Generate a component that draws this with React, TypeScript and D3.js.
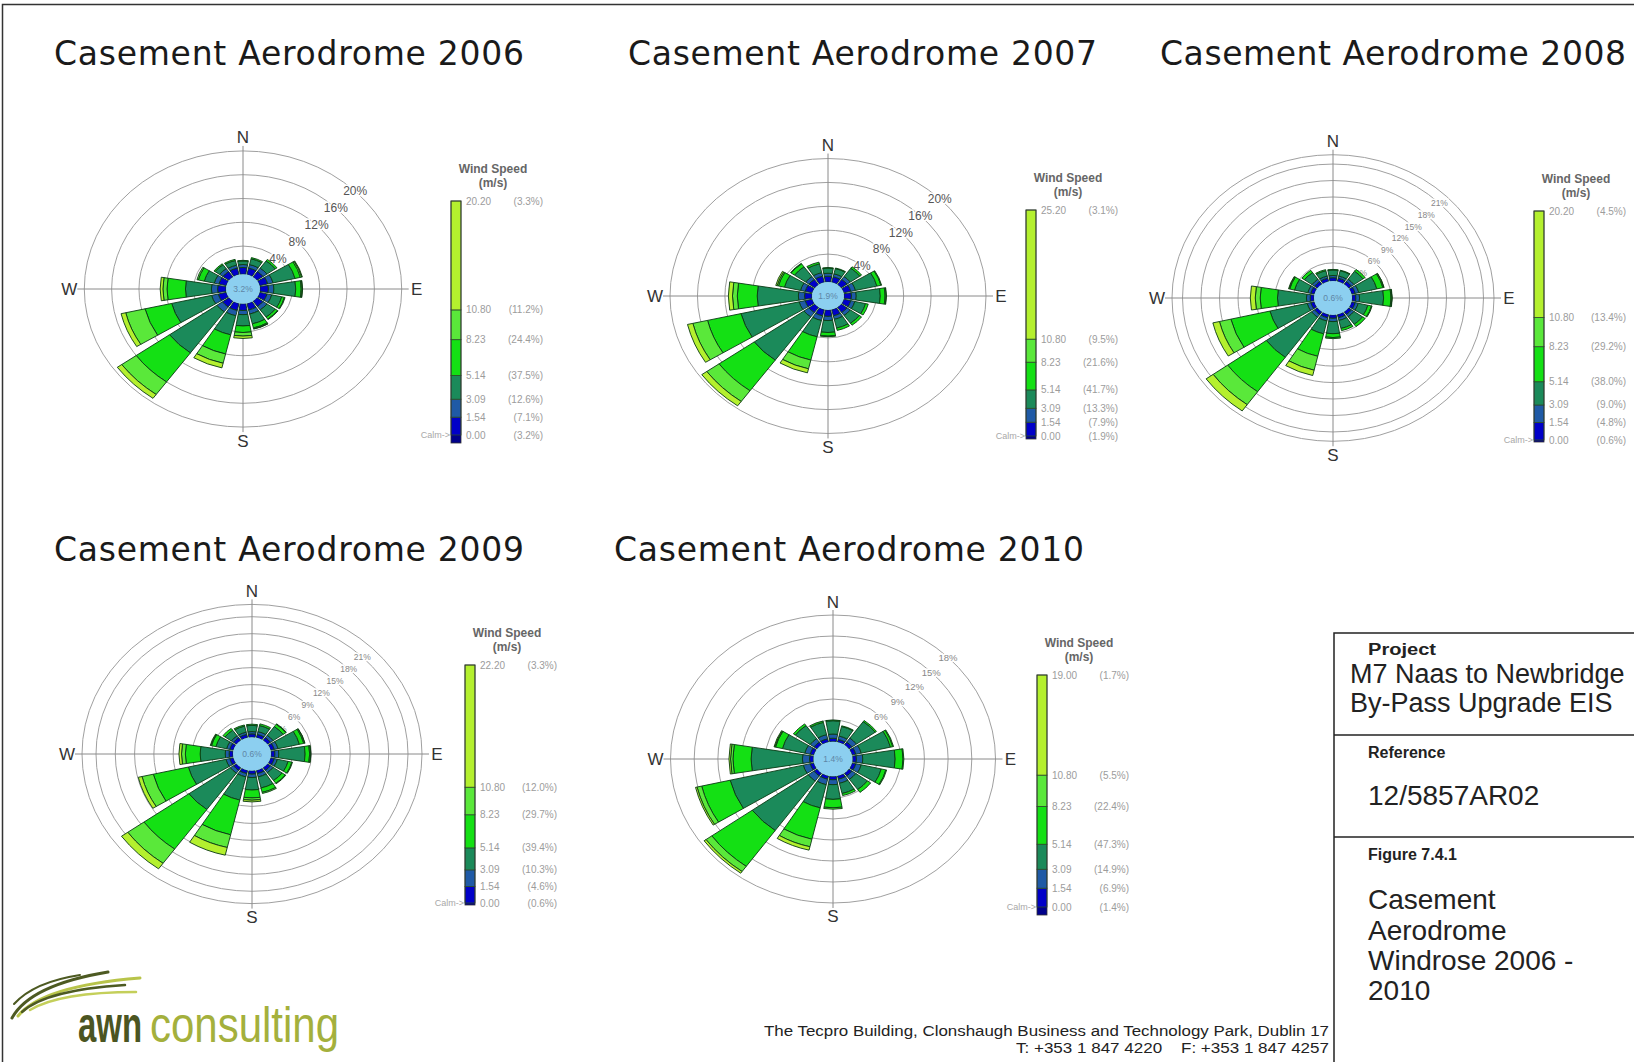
import React from "react";
import * as d3 from "d3";

// ---------------- DATA ----------------
const directions = ["N", "NNE", "NE", "ENE", "E", "ESE", "SE", "SSE", "S", "SSW", "SW", "WSW", "W", "WNW", "NW", "NNW"];
const speedClasses = ["0.50-1.54", "1.54-3.09", "3.09-5.14", "5.14-8.23", "8.23-10.80", ">=10.80"];
const years = ["2006", "2007", "2008", "2009", "2010"];
const calmPct = [3.2, 1.9, 0.6, 0.6, 1.4];

// legend: class boundaries (m/s) and max speed per year
const legendBounds = [0, 1.54, 3.09, 5.14, 8.23, 10.8];
const legendMax = [20.2, 25.2, 20.2, 22.2, 19.0];
// percentages printed next to 0.00, 1.54, 3.09, 5.14, 8.23, 10.80, max
const legendPct2006 = [3.2, 7.1, 12.6, 37.5, 24.4, 11.2, 3.3];
const legendPct2007 = [1.9, 7.9, 13.3, 41.7, 21.6, 9.5, 3.1];
const legendPct2008 = [0.6, 4.8, 9.0, 38.0, 29.2, 13.4, 4.5];
const legendPct2009 = [0.6, 4.6, 10.3, 39.4, 29.7, 12.0, 3.3];
const legendPct2010 = [1.4, 6.9, 14.9, 47.3, 22.4, 5.5, 1.7];

// frequency rings (%)
const rings2006 = [4, 8, 12, 16, 20];
const rings2007 = [4, 8, 12, 16, 20];
const rings2008 = [3, 6, 9, 12, 15, 18, 21];
const rings2009 = [3, 6, 9, 12, 15, 18, 21];
const rings2010 = [3, 6, 9, 12, 15, 18];

// frequency (%) per speed class (rows) per direction (columns N..NNW)
const freq2006 = [
  [0.4, 0.4, 0.4, 0.5, 0.5, 0.4, 0.4, 0.4, 0.4, 0.5, 0.5, 0.5, 0.5, 0.4, 0.4, 0.4],
  [0.5, 0.6, 0.7, 0.8, 0.8, 0.7, 0.7, 0.7, 0.7, 0.9, 1.0, 1.0, 0.9, 0.7, 0.6, 0.5],
  [0.6, 1.0, 1.5, 3.3, 3.2, 1.5, 1.5, 1.7, 1.9, 3.3, 8.5, 6.0, 3.8, 1.5, 0.8, 0.8],
  [0.1, 0.2, 0.3, 0.8, 0.8, 0.4, 0.4, 0.7, 1.1, 3.3, 6.0, 4.0, 2.7, 0.9, 0.2, 0.2],
  [0, 0, 0, 0.2, 0.15, 0.1, 0.1, 0.15, 0.6, 1.6, 2.6, 2.9, 0.6, 0.2, 0, 0],
  [0, 0, 0, 0.1, 0.05, 0, 0, 0.05, 0.4, 0.8, 0.8, 0.7, 0.4, 0, 0, 0],
];
const freq2007 = [
  [0.3, 0.3, 0.4, 0.4, 0.4, 0.4, 0.4, 0.4, 0.4, 0.4, 0.4, 0.4, 0.4, 0.4, 0.4, 0.4],
  [0.5, 0.5, 0.6, 0.7, 0.7, 0.6, 0.6, 0.6, 0.7, 0.8, 0.9, 0.9, 0.9, 0.7, 0.6, 0.6],
  [0.85, 0.9, 1.7, 3.2, 3.5, 1.6, 1.6, 1.5, 2.0, 2.8, 8.9, 8.7, 6.0, 2.4, 2.0, 1.5],
  [0.1, 0.1, 0.3, 0.6, 0.7, 0.4, 0.4, 0.4, 0.6, 4.0, 6.3, 5.0, 2.9, 0.9, 0.6, 0.3],
  [0, 0, 0, 0.1, 0.15, 0, 0, 0, 0.1, 1.5, 2.2, 2.2, 0.7, 0.2, 0.1, 0],
  [0, 0, 0, 0, 0.05, 0, 0, 0, 0, 0.7, 0.9, 0.8, 0.6, 0.2, 0, 0],
];
const freq2008 = [
  [0.3, 0.3, 0.3, 0.3, 0.3, 0.3, 0.3, 0.3, 0.3, 0.3, 0.3, 0.3, 0.3, 0.3, 0.3, 0.3],
  [0.4, 0.4, 0.5, 0.6, 0.6, 0.5, 0.5, 0.5, 0.6, 0.6, 0.6, 0.6, 0.6, 0.5, 0.5, 0.4],
  [1.0, 1.0, 1.8, 3.0, 3.9, 1.6, 1.7, 1.5, 2.2, 2.4, 9.0, 6.2, 4.7, 2.2, 1.5, 1.0],
  [0.1, 0.1, 0.4, 1.0, 1.2, 0.6, 0.5, 0.4, 0.7, 4.2, 7.7, 6.5, 2.8, 0.8, 0.5, 0.2],
  [0, 0, 0, 0.15, 0.15, 0.1, 0, 0, 0.2, 2.6, 2.9, 1.9, 0.8, 0.1, 0, 0],
  [0, 0, 0, 0.05, 0.05, 0, 0, 0, 0, 1.0, 1.4, 1.1, 0.8, 0.1, 0, 0],
];
const freq2009 = [
  [0.3, 0.3, 0.3, 0.3, 0.3, 0.3, 0.3, 0.3, 0.3, 0.3, 0.3, 0.3, 0.3, 0.3, 0.3, 0.3],
  [0.4, 0.5, 0.5, 0.6, 0.6, 0.5, 0.5, 0.6, 0.6, 0.6, 0.6, 0.6, 0.6, 0.5, 0.4, 0.4],
  [1.1, 1.1, 1.9, 3.4, 4.1, 1.7, 1.7, 2.0, 2.2, 4.2, 7.9, 6.0, 3.9, 1.7, 1.2, 1.1],
  [0.2, 0.3, 0.5, 0.7, 0.7, 0.6, 0.6, 0.8, 1.4, 6.3, 8.6, 5.6, 2.3, 0.7, 0.4, 0.2],
  [0, 0, 0.1, 0.15, 0.15, 0.1, 0.1, 0.2, 0.4, 2.3, 3.1, 1.8, 0.6, 0.1, 0, 0],
  [0, 0, 0, 0.05, 0.05, 0, 0, 0, 0.3, 1.4, 1.2, 0.6, 0.4, 0.1, 0, 0],
];
const freq2010 = [
  [0.4, 0.3, 0.4, 0.4, 0.4, 0.4, 0.4, 0.4, 0.4, 0.4, 0.4, 0.4, 0.4, 0.4, 0.4, 0.4],
  [0.6, 0.5, 0.7, 0.7, 0.8, 0.7, 0.6, 0.6, 0.7, 0.8, 0.9, 0.9, 0.9, 0.7, 0.6, 0.6],
  [1.9, 1.4, 2.9, 3.8, 4.1, 2.6, 1.8, 1.5, 2.1, 3.4, 8.7, 9.5, 6.5, 2.9, 2.3, 1.8],
  [0.1, 0.1, 0.2, 0.3, 1.0, 0.6, 0.5, 0.3, 1.2, 4.6, 6.3, 3.7, 2.3, 0.9, 0.3, 0.2],
  [0, 0, 0, 0.1, 0.1, 0.1, 0, 0, 0.2, 1.1, 0.9, 0.6, 0.3, 0.1, 0, 0],
  [0, 0, 0, 0, 0, 0, 0, 0, 0, 0.5, 0.3, 0.2, 0.2, 0.1, 0, 0],
];

const FREQS = [freq2006, freq2007, freq2008, freq2009, freq2010];
const RINGS = [rings2006, rings2007, rings2008, rings2009, rings2010];
const LEGEND_PCTS = [legendPct2006, legendPct2007, legendPct2008, legendPct2009, legendPct2010];

// ---------------- LAYOUT & STYLE ----------------
const CLASS_COLORS = ["#0000c8", "#1f5aa6", "#1b8a5a", "#14e014", "#5ae83a", "#b4f02e"];
const CALM_FILL = "#8ccff0";
const PETAL_STROKE = "#0a3a14";

const ROSES = [
  { cx: 243, cy: 289, r0: 22, R: 158.7, max: 20, sy: 0.87, rc: 17, frame: 0, ringFont: 12, ringColor: "#555" },
  { cx: 828, cy: 296, r0: 20.7, R: 158, max: 20, sy: 0.87, rc: 16, frame: 0, ringFont: 12, ringColor: "#555" },
  { cx: 1333, cy: 298, r0: 21, R: 150.5, max: 21, sy: 0.89, rc: 19, frame: 161, ringFont: 8.5, ringColor: "#888" },
  { cx: 252, cy: 754, r0: 21, R: 156, max: 21, sy: 0.88, rc: 19, frame: 170, ringFont: 8.5, ringColor: "#888" },
  { cx: 833, cy: 759, r0: 20.3, R: 162.5, max: 18, sy: 0.886, rc: 19.5, frame: 0, ringFont: 9.5, ringColor: "#888" },
];
const TITLES = [
  { x: 54, y: 64.5, w: 470 },
  { x: 628, y: 64.5, w: 469 },
  { x: 1160, y: 64.5, w: 466 },
  { x: 54, y: 560.5, w: 470 },
  { x: 614, y: 560.5, w: 470 },
];
const LEGENDS = [
  { x: 451, top: 201, zero: 435, bottom: 443 },
  { x: 1026, top: 210, zero: 436, bottom: 439 },
  { x: 1534, top: 211, zero: 440, bottom: 442 },
  { x: 465, top: 665, zero: 903, bottom: 905 },
  { x: 1037, top: 675, zero: 907, bottom: 915 },
];

const SANS = "'Liberation Sans', Arial, sans-serif";
const NARROW = "'Liberation Sans Narrow', 'Liberation Sans', sans-serif";

function Rose({ i }: { i: number }) {
  const L = ROSES[i];
  const data = FREQS[i];
  const r = d3.scaleLinear().domain([0, L.max]).range([L.r0, L.R]);
  const arc = d3.arc<any>();
  const step = (2 * Math.PI) / directions.length;
  const half = (9.4 * Math.PI) / 180;
  const wedges: { key: string; d: string; fill: string }[] = [];
  directions.forEach((_, j) => {
    let cum = 0;
    data.forEach((row, k) => {
      const v = row[j];
      if (!v) return;
      const inner = k === 0 ? L.rc : r(cum);
      cum += v;
      const outer = r(cum);
      wedges.push({
        key: `${j}-${k}`,
        d: arc({ innerRadius: inner, outerRadius: outer, startAngle: j * step - half, endAngle: j * step + half }) as string,
        fill: CLASS_COLORS[k],
      });
    });
  });
  const rout = L.frame || L.R;
  const la = Math.PI / 4;
  return (
    <g>
      {RINGS[i].map((p) => (
        <ellipse key={p} cx={L.cx} cy={L.cy} rx={r(p)} ry={r(p) * L.sy} fill="none" stroke="#a0a0a0" strokeWidth={1} />
      ))}
      {L.frame ? <ellipse cx={L.cx} cy={L.cy} rx={L.frame} ry={L.frame * L.sy} fill="none" stroke="#a0a0a0" strokeWidth={1} /> : null}
      <line x1={L.cx - rout - 7} x2={L.cx + rout + 7} y1={L.cy} y2={L.cy} stroke="#8a8a8a" strokeWidth={1} />
      <line x1={L.cx} x2={L.cx} y1={L.cy - rout * L.sy - 5} y2={L.cy + rout * L.sy + 5} stroke="#8a8a8a" strokeWidth={1} />
      {RINGS[i].map((p) => (
        <text
          key={`l${p}`}
          x={L.cx + r(p) * Math.sin(la)}
          y={L.cy - r(p) * Math.cos(la) * L.sy}
          fontSize={L.ringFont}
          fill={L.ringColor}
          textAnchor="middle"
          dominantBaseline="central"
          stroke="#fff"
          strokeWidth={3}
          paintOrder="stroke"
          fontFamily={SANS}
        >
          {`${p}%`}
        </text>
      ))}
      <g transform={`translate(${L.cx},${L.cy}) scale(1,${L.sy})`}>
        {wedges.map((w) => (
          <path key={w.key} d={w.d} fill={w.fill} stroke={PETAL_STROKE} strokeWidth={0.9} vectorEffect="non-scaling-stroke" />
        ))}
        <circle r={L.rc} fill={CALM_FILL} />
      </g>
      <text x={L.cx} y={L.cy} fontSize={8.5} fill="#5f86a6" textAnchor="middle" dominantBaseline="central" fontFamily={SANS}>
        {`${calmPct[i].toFixed(1)}%`}
      </text>
      <g fontSize={17} fill="#333" fontFamily={SANS} textAnchor="middle" dominantBaseline="central">
        <text x={L.cx} y={L.cy - rout * L.sy - 13}>N</text>
        <text x={L.cx} y={L.cy + rout * L.sy + 14}>S</text>
        <text x={L.cx - rout - 15} y={L.cy}>W</text>
        <text x={L.cx + rout + 15} y={L.cy}>E</text>
      </g>
    </g>
  );
}

function Legend({ i }: { i: number }) {
  const G = LEGENDS[i];
  const max = legendMax[i];
  const y = d3.scaleLinear().domain([0, max]).range([G.zero, G.top]);
  const edges = [...legendBounds, max];
  const pcts = LEGEND_PCTS[i];
  const w = 10;
  return (
    <g fontFamily={SANS}>
      <text x={G.x + 42} y={G.top - 32} fontSize={12} fontWeight="bold" fill="#666" textAnchor="middle" dominantBaseline="central">
        Wind Speed
      </text>
      <text x={G.x + 42} y={G.top - 18} fontSize={12} fontWeight="bold" fill="#666" textAnchor="middle" dominantBaseline="central">
        (m/s)
      </text>
      <rect x={G.x} y={G.zero} width={w} height={G.bottom - G.zero} fill="#00008b" />
      {speedClasses.map((c, k) => (
        <rect key={c} x={G.x} y={y(edges[k + 1])} width={w} height={y(edges[k]) - y(edges[k + 1])} fill={CLASS_COLORS[k]} stroke="#2a4a2a" strokeWidth={0.8} />
      ))}
      <rect x={G.x} y={G.top} width={w} height={G.bottom - G.top} fill="none" stroke="#333" strokeWidth={0.8} />
      {edges.map((v, k) => (
        <g key={k} fontSize={10} fill="#9c9c9c">
          <text x={G.x + 15} y={y(v)} dominantBaseline="central">{v.toFixed(2)}</text>
          <text x={G.x + 92} y={y(v)} textAnchor="end" dominantBaseline="central">{`(${pcts[k].toFixed(1)}%)`}</text>
        </g>
      ))}
      <text x={G.x - 1} y={G.zero} fontSize={9} fill="#a8a8a8" textAnchor="end" dominantBaseline="central">
        {"Calm->"}
      </text>
    </g>
  );
}

export default function App() {
  return (
    <svg width={1634} height={1062} style={{ position: "absolute", left: 0, top: 0, background: "#fff" }}>
      <rect x={0} y={0} width={1634} height={1062} fill="#fff" />
      <path d="M2.5,1062 V4.5 H1634" fill="none" stroke="#333" strokeWidth={1.5} />
      {years.map((yr, i) => (
        <text
          key={`t${yr}`}
          x={TITLES[i].x}
          y={TITLES[i].y}
          fontSize={33}
          fontFamily="'DejaVu Sans', sans-serif"
          fill="#1a1a1a"
          textLength={TITLES[i].w}
          lengthAdjust="spacing"
        >
          {`Casement Aerodrome ${yr}`}
        </text>
      ))}
      {years.map((yr, i) => (
        <Rose key={`r${yr}`} i={i} />
      ))}
      {years.map((yr, i) => (
        <Legend key={`g${yr}`} i={i} />
      ))}

      <g fontFamily={SANS}>
        <path d="M1634,633 H1334 V1062" fill="none" stroke="#222" strokeWidth={1.5} />
        <line x1={1334} x2={1634} y1={735} y2={735} stroke="#222" strokeWidth={1.5} />
        <line x1={1334} x2={1634} y1={837} y2={837} stroke="#222" strokeWidth={1.5} />
        <text x={1368} y={655} fontSize={16} fontWeight="bold" fill="#222" textLength={68} lengthAdjust="spacingAndGlyphs">Project</text>
        <text x={1350} y={683} fontSize={27} fill="#222">M7 Naas to Newbridge</text>
        <text x={1350} y={712} fontSize={27} fill="#222">By-Pass Upgrade EIS</text>
        <text x={1368} y={758} fontSize={16} fontWeight="bold" fill="#222">Reference</text>
        <text x={1368} y={805} fontSize={28} fill="#222">12/5857AR02</text>
        <text x={1368} y={860} fontSize={16} fontWeight="bold" fill="#222">Figure 7.4.1</text>
        <text x={1368} y={909} fontSize={28} fill="#222">Casement</text>
        <text x={1368} y={940} fontSize={28} fill="#222">Aerodrome</text>
        <text x={1368} y={970} fontSize={28} fill="#222">Windrose 2006 -</text>
        <text x={1368} y={1000} fontSize={28} fill="#222">2010</text>
      </g>

      <g fontFamily={NARROW} fontSize={14} fill="#222">
        <text x={764} y={1036} textLength={565} lengthAdjust="spacingAndGlyphs">
          The Tecpro Building, Clonshaugh Business and Technology Park, Dublin 17
        </text>
        <text x={1016} y={1053} textLength={313} lengthAdjust="spacingAndGlyphs" xmlSpace="preserve">
          T: +353 1 847 4220    F: +353 1 847 4257
        </text>
      </g>

      <g fill="none" strokeLinecap="round">
        <path d="M12,1018 Q30,985 108,972" stroke="#4d5a22" strokeWidth={3} />
        <path d="M18,1016 Q42,986 140,978" stroke="#b8c44a" strokeWidth={3} />
        <path d="M22,1012 Q46,990 125,985" stroke="#4d5a22" strokeWidth={2.5} />
        <path d="M30,1010 Q60,992 136,992" stroke="#c4cf5a" strokeWidth={2.5} />
        <path d="M14,1004 Q34,982 80,975" stroke="#4d5a22" strokeWidth={2} />
      </g>
      <text x={78} y={1042} fontSize={50} fontWeight="bold" fill="#4b5522" fontFamily={NARROW} textLength={64} lengthAdjust="spacingAndGlyphs">
        awn
      </text>
      <text x={150} y={1042} fontSize={50} fill="#a4b03c" fontFamily={NARROW} textLength={189} lengthAdjust="spacingAndGlyphs">
        consulting
      </text>
    </svg>
  );
}
